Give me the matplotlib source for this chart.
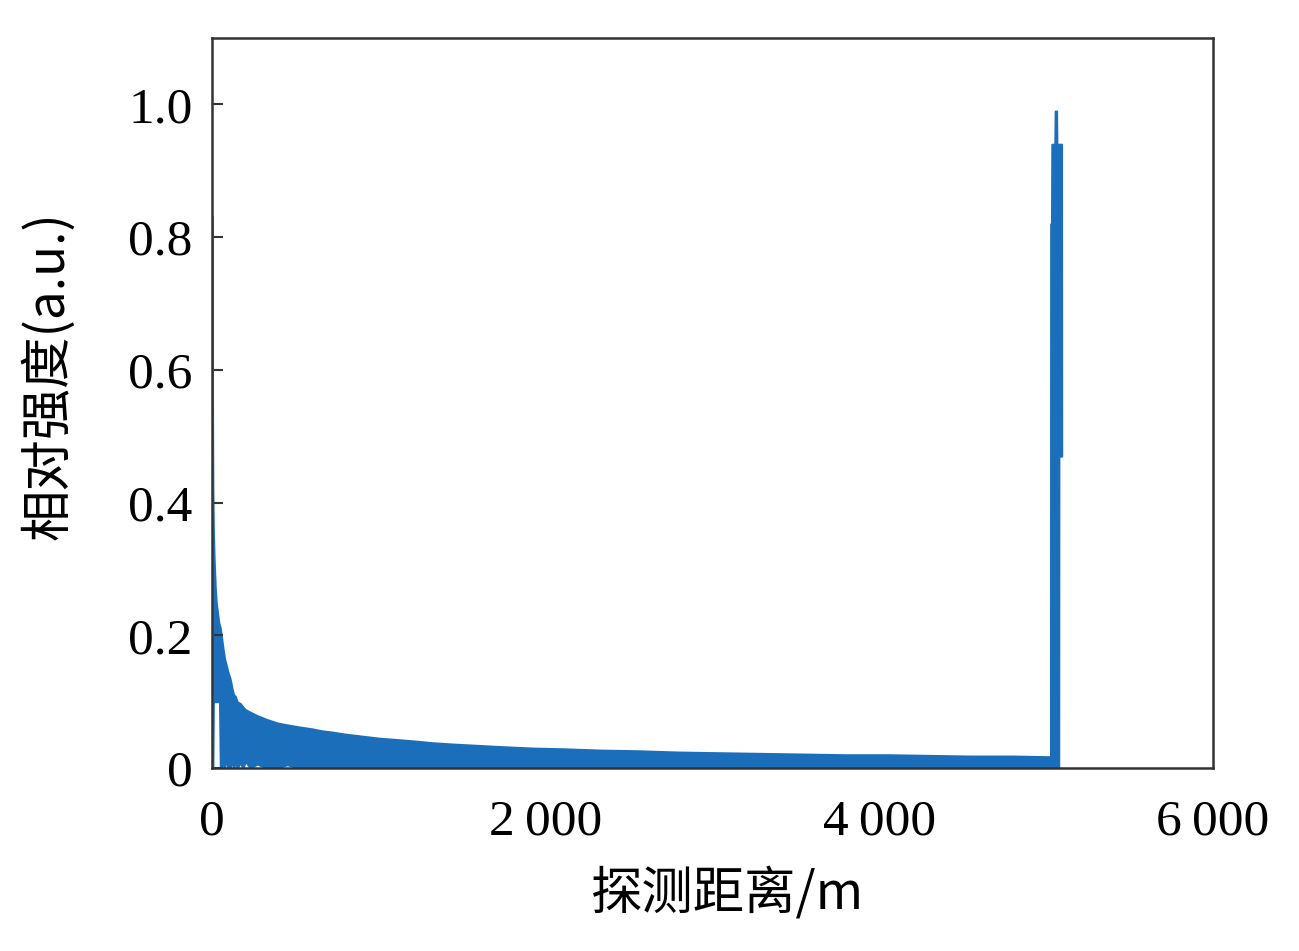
import numpy as np
import matplotlib.pyplot as plt

# distance (m) and envelope of the backscatter trace
dist = [0, 2, 5, 8, 12, 15, 20, 25, 30, 35, 40, 45, 50, 58, 66, 75, 85, 95,
        108, 120, 130, 140, 150, 170, 185, 200, 230, 270, 330, 390, 450, 520,
        600, 660, 725, 800, 900, 1000, 1100, 1200, 1325, 1450, 1600, 1750,
        1925, 2100, 2325, 2550, 2800, 3050, 3300, 3550, 3800, 4050, 4300,
        4550, 4800, 5020]
upper = [0.83, 0.60, 0.42, 0.36, 0.32, 0.30, 0.27, 0.25, 0.24, 0.23, 0.22,
         0.215, 0.21, 0.195, 0.18, 0.165, 0.155, 0.145, 0.135, 0.12, 0.11,
         0.108, 0.10, 0.097, 0.092, 0.088, 0.084, 0.079, 0.073, 0.068, 0.065,
         0.062, 0.059, 0.056, 0.054, 0.051, 0.048, 0.045, 0.043, 0.041,
         0.038, 0.036, 0.034, 0.032, 0.030, 0.029, 0.027, 0.026, 0.024,
         0.023, 0.022, 0.021, 0.020, 0.020, 0.019, 0.018, 0.018, 0.017]
lower = [0, 0, 0, 0.10, 0.10, 0.10, 0.10, 0.10, 0.10, 0.10, 0.10,
         0.10, 0, 0, 0.012, 0, 0.015, 0, 0, 0.01, 0, 0.012, 0, 0.008, 0,
         0.01, 0, 0.006, 0, 0, 0.005, 0, 0, 0, 0, 0, 0, 0, 0, 0,
         0, 0, 0, 0, 0, 0, 0, 0, 0, 0, 0, 0, 0, 0, 0, 0, 0, 0]

# reflection peak at the fibre end
spike_x = [5020, 5026, 5027, 5032, 5034, 5052, 5054, 5062, 5064, 5075, 5076,
           5092, 5093]
spike_upper = [0.017, 0.017, 0.82, 0.82, 0.94, 0.94, 0.99, 0.99, 0.94, 0.94,
               0.94, 0.94, 0.47]
spike_lower = [0, 0, 0, 0, 0, 0, 0, 0, 0, 0, 0.47, 0.47, 0.47]

xticks = [0, 2000, 4000, 6000]
xticklabels = ['0', '2\u2009000', '4\u2009000', '6\u2009000']
yticks = [0, 0.2, 0.4, 0.6, 0.8, 1.0]
yticklabels = ['0', '0.2', '0.4', '0.6', '0.8', '1.0']

blue = '#1b6fba'
serif = ['Liberation Serif', 'DejaVu Serif']
cjk = ['Noto Sans CJK SC', 'DejaVu Sans']

fig = plt.figure(figsize=(12.99, 9.51), dpi=100)
ax = fig.add_axes([0.1632, 0.1924, 0.7706, 0.7676])

ax.fill_between(dist, lower, upper, color=blue, lw=1.5, edgecolor=blue)
ax.fill_between(spike_x, spike_lower, spike_upper, color=blue, lw=1.5,
                edgecolor=blue)
ax.plot([0, 0], [0, upper[0]], color='#3a95dd', lw=2)

ax.set_xlim(0, 6000)
ax.set_ylim(0, 1.1)
ax.set_xticks(xticks)
ax.set_xticklabels(xticklabels, family=serif, fontsize=37)
ax.set_yticks(yticks)
ax.set_yticklabels(yticklabels, family=serif, fontsize=37)
ax.tick_params(axis='y', direction='in', length=8, width=1.5, pad=14,
               color='#333333')
ax.tick_params(axis='x', direction='in', length=0, pad=22)
for s in ax.spines.values():
    s.set_color('#333333')
    s.set_linewidth(1.8)

ax.set_xlabel('探测距离/m', family=cjk, fontsize=37)
ax.set_ylabel('相对强度(a.u.)', family=cjk, fontsize=37)
ax.xaxis.set_label_coords(0.515, -0.135)
ax.yaxis.set_label_coords(-0.137, 0.537)

fig.savefig('out.png', dpi=100)
